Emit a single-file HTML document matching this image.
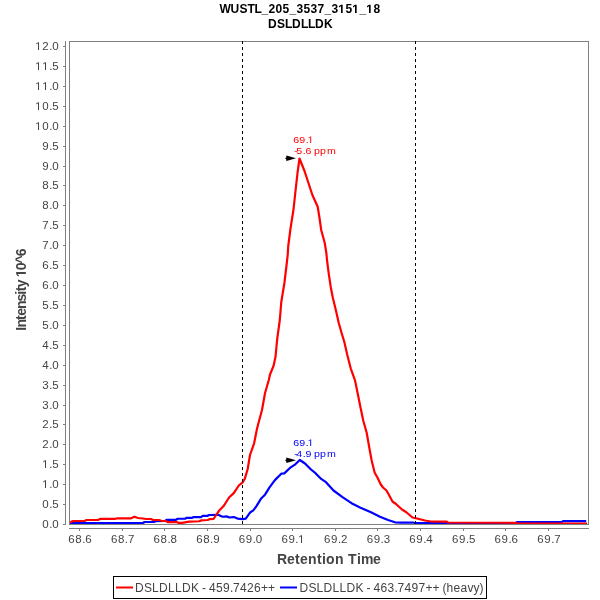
<!DOCTYPE html><html><head><meta charset="utf-8"><style>html,body{margin:0;padding:0;background:#fff;width:600px;height:600px;overflow:hidden}svg{display:block;will-change:transform}text{font-family:"Liberation Sans",sans-serif;white-space:pre}</style></head><body>
<svg width="600" height="600" viewBox="0 0 600 600">
<rect x="0" y="0" width="600" height="600" fill="#fff"/>
<text x="219.50 230.50 239.50 247.50 254.50 261.50 268.50 275.50 282.50 289.50 296.50 303.50 310.50 317.50 324.50 331.50 338.50 345.50 352.50 359.50 366.50 373.50" y="13.00" font-size="12" font-weight="bold" fill="#000">WUSTL_205_3537_3 5 _ 8</text><polygon points="341.00,13.00 341.00,6.14 339.02,7.38 339.02,6.09 341.09,4.74 342.65,4.74 342.65,13.00" fill="#000"/><polygon points="355.00,13.00 355.00,6.14 353.02,7.38 353.02,6.09 355.09,4.74 356.65,4.74 356.65,13.00" fill="#000"/><polygon points="369.00,13.00 369.00,6.14 367.02,7.38 367.02,6.09 369.09,4.74 370.65,4.74 370.65,13.00" fill="#000"/>
<text x="268.00 277.00 285.00 292.00 301.00 308.00 315.00 324.00" y="28.00" font-size="12" font-weight="bold" fill="#000">DSLDLLDK</text>
<rect x="69.5" y="41.5" width="519" height="483" fill="none" stroke="#808080" stroke-width="1"/>
<line x1="65.5" y1="41" x2="65.5" y2="525" stroke="#808080" stroke-width="1"/>
<line x1="63" y1="524.50" x2="65" y2="524.50" stroke="#808080" stroke-width="1"/>
<text x="42.34 49.27 52.34" y="528.10" font-size="11.5"  fill="#444444">0.0</text>
<line x1="63" y1="504.50" x2="65" y2="504.50" stroke="#808080" stroke-width="1"/>
<text x="42.34 49.27 52.34" y="508.10" font-size="11.5"  fill="#444444">0.5</text>
<line x1="63" y1="484.50" x2="65" y2="484.50" stroke="#808080" stroke-width="1"/>
<text x="42.34 49.27 52.34" y="488.10" font-size="11.5"  fill="#444444"> .0</text><polygon points="45.00,488.10 45.00,481.15 43.21,482.43 43.21,481.47 45.08,480.19 46.02,480.19 46.02,488.10" fill="#444444"/>
<line x1="63" y1="464.50" x2="65" y2="464.50" stroke="#808080" stroke-width="1"/>
<text x="42.34 49.27 52.34" y="468.10" font-size="11.5"  fill="#444444"> .5</text><polygon points="45.00,468.10 45.00,461.15 43.21,462.43 43.21,461.47 45.08,460.19 46.02,460.19 46.02,468.10" fill="#444444"/>
<line x1="63" y1="444.50" x2="65" y2="444.50" stroke="#808080" stroke-width="1"/>
<text x="42.34 49.27 52.34" y="448.10" font-size="11.5"  fill="#444444">2.0</text>
<line x1="63" y1="424.50" x2="65" y2="424.50" stroke="#808080" stroke-width="1"/>
<text x="42.34 49.27 52.34" y="428.10" font-size="11.5"  fill="#444444">2.5</text>
<line x1="63" y1="405.50" x2="65" y2="405.50" stroke="#808080" stroke-width="1"/>
<text x="42.34 49.27 52.34" y="409.10" font-size="11.5"  fill="#444444">3.0</text>
<line x1="63" y1="385.50" x2="65" y2="385.50" stroke="#808080" stroke-width="1"/>
<text x="42.34 49.27 52.34" y="389.10" font-size="11.5"  fill="#444444">3.5</text>
<line x1="63" y1="365.50" x2="65" y2="365.50" stroke="#808080" stroke-width="1"/>
<text x="42.34 49.27 52.34" y="369.10" font-size="11.5"  fill="#444444">4.0</text>
<line x1="63" y1="345.50" x2="65" y2="345.50" stroke="#808080" stroke-width="1"/>
<text x="42.34 49.27 52.34" y="349.10" font-size="11.5"  fill="#444444">4.5</text>
<line x1="63" y1="325.50" x2="65" y2="325.50" stroke="#808080" stroke-width="1"/>
<text x="42.34 49.27 52.34" y="329.10" font-size="11.5"  fill="#444444">5.0</text>
<line x1="63" y1="305.50" x2="65" y2="305.50" stroke="#808080" stroke-width="1"/>
<text x="42.34 49.27 52.34" y="309.10" font-size="11.5"  fill="#444444">5.5</text>
<line x1="63" y1="285.50" x2="65" y2="285.50" stroke="#808080" stroke-width="1"/>
<text x="42.34 49.27 52.34" y="289.10" font-size="11.5"  fill="#444444">6.0</text>
<line x1="63" y1="265.50" x2="65" y2="265.50" stroke="#808080" stroke-width="1"/>
<text x="42.34 49.27 52.34" y="269.10" font-size="11.5"  fill="#444444">6.5</text>
<line x1="63" y1="245.50" x2="65" y2="245.50" stroke="#808080" stroke-width="1"/>
<text x="42.34 49.27 52.34" y="249.10" font-size="11.5"  fill="#444444">7.0</text>
<line x1="63" y1="225.50" x2="65" y2="225.50" stroke="#808080" stroke-width="1"/>
<text x="42.34 49.27 52.34" y="229.10" font-size="11.5"  fill="#444444">7.5</text>
<line x1="63" y1="205.50" x2="65" y2="205.50" stroke="#808080" stroke-width="1"/>
<text x="42.34 49.27 52.34" y="209.10" font-size="11.5"  fill="#444444">8.0</text>
<line x1="63" y1="185.50" x2="65" y2="185.50" stroke="#808080" stroke-width="1"/>
<text x="42.34 49.27 52.34" y="189.10" font-size="11.5"  fill="#444444">8.5</text>
<line x1="63" y1="166.50" x2="65" y2="166.50" stroke="#808080" stroke-width="1"/>
<text x="42.34 49.27 52.34" y="170.10" font-size="11.5"  fill="#444444">9.0</text>
<line x1="63" y1="146.50" x2="65" y2="146.50" stroke="#808080" stroke-width="1"/>
<text x="42.34 49.27 52.34" y="150.10" font-size="11.5"  fill="#444444">9.5</text>
<line x1="63" y1="126.50" x2="65" y2="126.50" stroke="#808080" stroke-width="1"/>
<text x="35.34 42.34 49.27 52.34" y="130.10" font-size="11.5"  fill="#444444"> 0.0</text><polygon points="38.00,130.10 38.00,123.15 36.21,124.43 36.21,123.47 38.08,122.19 39.02,122.19 39.02,130.10" fill="#444444"/>
<line x1="63" y1="106.50" x2="65" y2="106.50" stroke="#808080" stroke-width="1"/>
<text x="35.34 42.34 49.27 52.34" y="110.10" font-size="11.5"  fill="#444444"> 0.5</text><polygon points="38.00,110.10 38.00,103.15 36.21,104.43 36.21,103.47 38.08,102.19 39.02,102.19 39.02,110.10" fill="#444444"/>
<line x1="63" y1="86.50" x2="65" y2="86.50" stroke="#808080" stroke-width="1"/>
<text x="35.34 42.34 49.27 52.34" y="90.10" font-size="11.5"  fill="#444444">  .0</text><polygon points="38.00,90.10 38.00,83.15 36.21,84.43 36.21,83.47 38.08,82.19 39.02,82.19 39.02,90.10" fill="#444444"/><polygon points="45.00,90.10 45.00,83.15 43.21,84.43 43.21,83.47 45.08,82.19 46.02,82.19 46.02,90.10" fill="#444444"/>
<line x1="63" y1="66.50" x2="65" y2="66.50" stroke="#808080" stroke-width="1"/>
<text x="35.34 42.34 49.27 52.34" y="70.10" font-size="11.5"  fill="#444444">  .5</text><polygon points="38.00,70.10 38.00,63.15 36.21,64.43 36.21,63.47 38.08,62.19 39.02,62.19 39.02,70.10" fill="#444444"/><polygon points="45.00,70.10 45.00,63.15 43.21,64.43 43.21,63.47 45.08,62.19 46.02,62.19 46.02,70.10" fill="#444444"/>
<line x1="63" y1="46.50" x2="65" y2="46.50" stroke="#808080" stroke-width="1"/>
<text x="35.34 42.34 49.27 52.34" y="50.10" font-size="11.5"  fill="#444444"> 2.0</text><polygon points="38.00,50.10 38.00,43.15 36.21,44.43 36.21,43.47 38.08,42.19 39.02,42.19 39.02,50.10" fill="#444444"/>
<line x1="69" y1="528.5" x2="589" y2="528.5" stroke="#808080" stroke-width="1"/>
<line x1="79.50" y1="528" x2="79.50" y2="531" stroke="#808080" stroke-width="1"/>
<text x="68.24 75.24 82.17 85.24" y="543.10" font-size="11.5"  fill="#444444">68.6</text>
<line x1="122.50" y1="528" x2="122.50" y2="531" stroke="#808080" stroke-width="1"/>
<text x="110.88 117.88 124.81 127.88" y="543.10" font-size="11.5"  fill="#444444">68.7</text>
<line x1="164.50" y1="528" x2="164.50" y2="531" stroke="#808080" stroke-width="1"/>
<text x="153.51 160.51 167.44 170.51" y="543.10" font-size="11.5"  fill="#444444">68.8</text>
<line x1="207.50" y1="528" x2="207.50" y2="531" stroke="#808080" stroke-width="1"/>
<text x="196.15 203.15 210.08 213.15" y="543.10" font-size="11.5"  fill="#444444">68.9</text>
<line x1="250.50" y1="528" x2="250.50" y2="531" stroke="#808080" stroke-width="1"/>
<text x="238.78 245.78 252.71 255.78" y="543.10" font-size="11.5"  fill="#444444">69.0</text>
<line x1="292.50" y1="528" x2="292.50" y2="531" stroke="#808080" stroke-width="1"/>
<text x="281.42 288.42 295.35 298.42" y="543.10" font-size="11.5"  fill="#444444">69. </text><polygon points="301.00,543.10 301.00,536.15 299.21,537.43 299.21,536.47 301.08,535.19 302.02,535.19 302.02,543.10" fill="#444444"/>
<line x1="335.50" y1="528" x2="335.50" y2="531" stroke="#808080" stroke-width="1"/>
<text x="324.06 331.06 337.99 341.06" y="543.10" font-size="11.5"  fill="#444444">69.2</text>
<line x1="377.50" y1="528" x2="377.50" y2="531" stroke="#808080" stroke-width="1"/>
<text x="366.69 373.69 380.62 383.69" y="543.10" font-size="11.5"  fill="#444444">69.3</text>
<line x1="420.50" y1="528" x2="420.50" y2="531" stroke="#808080" stroke-width="1"/>
<text x="409.33 416.33 423.26 426.33" y="543.10" font-size="11.5"  fill="#444444">69.4</text>
<line x1="463.50" y1="528" x2="463.50" y2="531" stroke="#808080" stroke-width="1"/>
<text x="451.96 458.96 465.89 468.96" y="543.10" font-size="11.5"  fill="#444444">69.5</text>
<line x1="505.50" y1="528" x2="505.50" y2="531" stroke="#808080" stroke-width="1"/>
<text x="494.60 501.60 508.53 511.60" y="543.10" font-size="11.5"  fill="#444444">69.6</text>
<line x1="548.50" y1="528" x2="548.50" y2="531" stroke="#808080" stroke-width="1"/>
<text x="537.24 544.24 551.17 554.24" y="543.10" font-size="11.5"  fill="#444444">69.7</text>
<defs><clipPath id="pc"><rect x="70" y="42" width="518" height="482"/></clipPath></defs><g clip-path="url(#pc)">
<polyline points="69.5,523 143,523 144.5,522 154,522 155.5,521.2 165,521 166.5,519.8 176,519.8 177.7,518.75 185.2,518.75 186.4,517.9 191.8,517.9 193.5,517.1 201,517.1 202.7,515.8 207.7,515.8 209,515 218.75,514.9 222.5,516.75 227,516.4 229.25,517.5 233.75,517.1 237.5,518.6 242.75,519.2 245.75,518.6 250.4,512.2 253.3,510.4 256.3,506.3 260.9,498.8 265,494.7 269.7,487.1 274.9,480.1 281.3,473.7 284.3,473.4 290.7,467.3 295.3,464.3 299.8,460 305,463.5 311,469.5 315.5,473.2 321.5,479.2 326,482.2 333.5,490.5 342.5,497.2 351.5,503.2 360.5,507.7 371,512.2 380,516.7 388,520 395,522.3 401,522.6 413.5,522.6 415,523.2 515.7,523.2 517,522 534,522 535,522.3 536,522 562,522 563,521.2 586.2,521.2" fill="none" stroke="#0000ff" stroke-width="2.2" stroke-linejoin="round"/>
<polyline points="69.5,522.5 73,521 84.5,521 86.5,520 98,520 100.5,518.8 115.5,518.8 117.5,518.3 131,518.3 134.5,516.7 138,518 143,518.5 146,519 151,519 153,520 159,520 162,521 166,521 167.7,522.1 176.8,522.1 178.5,522.9 182,522.9 189.3,521.7 199.3,521.25 201,520.4 207.7,520 209.3,519.2 213.5,519 215.5,516 218.75,511.1 224,505.5 229.25,497.25 233.75,493.1 239,485.25 242.4,482.6 244.75,478.9 247.7,469 250,455 254.1,443.3 257,428.75 259.3,420 262,410 265,393.3 268.8,380 270,374.5 273.5,366 275.5,357 277.2,339 279.8,320 281.25,302.3 284.4,283 286.5,265.5 287.7,255 288.2,246.5 290.5,228.5 293.5,209.5 295.5,191 297.5,173 299.5,158.5 304.5,171 312.4,195 317.7,206.7 319.4,217.2 321.2,230 324.7,242.8 326.4,253.3 327,260 328.7,273.3 330.7,286.7 332.7,297.3 336,310.7 338.7,322.7 341.3,332 344.4,342.3 347.3,355 350.7,368.3 355,380.3 358,395 360.4,407 363.3,420.7 366.7,432.7 369,446 371.7,460.7 374.7,472.7 377.7,478 380.5,484 383,487.5 386.5,490.5 389,495 392.5,501.5 396,504 402,509.5 406,512 412.5,517.5 417,518.5 425,520.5 431,521.5 446.7,521.6 448,522.5 515.7,522.8 517,523.6 587,523.6" fill="none" stroke="#ff0000" stroke-width="2.2" stroke-linejoin="round"/>
</g>
<line x1="242.5" y1="41" x2="242.5" y2="524" stroke="#000" stroke-width="1" stroke-dasharray="3 3"/>
<line x1="415.5" y1="41" x2="415.5" y2="524" stroke="#000" stroke-width="1" stroke-dasharray="3 3"/>
<polygon points="296,158.3 286.4,155.6 286.2,157.4 285,158.3 286.2,159.2 286.4,161" fill="#000"/>
<g transform="scale(1.12,1)"><text x="261.75 267.19 272.97 274.93" y="143.00" font-size="9.5"  fill="#ff0000">69. </text><polygon points="277.00,143.00 277.00,137.26 275.52,138.31 275.52,137.53 277.07,136.46 277.84,136.46 277.84,143.00" fill="#ff0000"/></g>
<g transform="scale(1.12,1)"><text x="262.75 264.62 270.29 272.82 276.79 280.28 285.81 291.96" y="154.00" font-size="9.5"  fill="#ff0000">-5.6 ppm</text></g>
<polygon points="296,460.3 286.4,457.6 286.2,459.4 285,460.3 286.2,461.2 286.4,463" fill="#000"/>
<g transform="scale(1.12,1)"><text x="261.75 267.19 272.97 274.93" y="446.00" font-size="9.5"  fill="#0000ff">69. </text><polygon points="277.00,446.00 277.00,440.26 275.52,441.31 275.52,440.53 277.07,439.46 277.84,439.46 277.84,446.00" fill="#0000ff"/></g>
<g transform="scale(1.12,1)"><text x="262.75 264.62 270.29 272.82 276.79 280.28 285.81 291.96" y="457.00" font-size="9.5"  fill="#0000ff">-4.9 ppm</text></g>
<text x="277.00 287.00 295.00 300.00 308.00 317.00 322.00 326.00 335.00 344.00 348.00 357.00 361.00 373.00" y="564.40" font-size="14" font-weight="bold" fill="#444444">Retention Time</text>
<g transform="translate(25.8,331) rotate(-90)"><g transform="scale(1,1)"><text x="0.20 3.60 11.09 15.17 21.98 29.46 36.27 39.68 43.76 50.57 53.97 60.79 67.60 74.75" y="0.00" font-size="14" font-weight="bold" fill="#444444">Intensity  0^6</text><polygon points="57.00,0.00 57.00,-8.00 54.69,-6.56 54.69,-8.07 57.10,-9.63 58.92,-9.63 58.92,0.00" fill="#444444"/></g></g>
<rect x="113.5" y="576.5" width="373" height="22" fill="#fff" stroke="#000" stroke-width="1"/>
<line x1="116" y1="587.5" x2="133" y2="587.5" stroke="#ff0000" stroke-width="2"/>
<text x="135.00 144.00 152.00 159.00 168.00 175.00 182.00 191.00 199.00 202.00 206.00 209.00 216.00 223.00 230.00 233.00 240.00 247.00 254.00 261.00 268.00" y="592.00" font-size="12"  fill="#444444">DSLDLLDK - 459.7426++</text>
<line x1="280" y1="587.5" x2="297" y2="587.5" stroke="#0000ff" stroke-width="2"/>
<text x="299.50 308.50 316.50 323.50 332.50 339.50 346.50 355.50 363.50 366.50 370.50 373.50 380.50 387.50 394.50 397.50 404.50 411.50 418.50 425.50 432.50 439.50 442.50 446.50 453.50 460.50 467.50 473.50 479.50" y="592.00" font-size="12"  fill="#444444">DSLDLLDK - 463.7497++ (heavy)</text>
</svg></body></html>
